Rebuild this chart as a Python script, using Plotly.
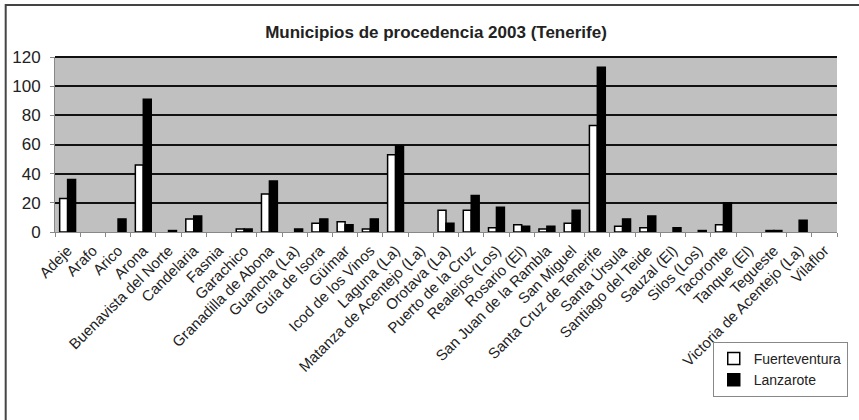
import plotly.graph_objects as go

municipios = ["Adeje", "Arafo", "Arico", "Arona", "Buenavista del Norte", "Candelaria",
              "Fasnia", "Garachico", "Granadilla de Abona", "Guancha (La)", "Guía de Isora",
              "Güímar", "Icod de los Vinos", "Laguna (La)", "Matanza de Acentejo (La)",
              "Orotava (La)", "Puerto de la Cruz", "Realejos (Los)", "Rosario (El)",
              "San Juan de la Rambla", "San Miguel", "Santa Cruz de Tenerife", "Santa Úrsula",
              "Santiago del Teide", "Sauzal (El)", "Silos (Los)", "Tacoronte", "Tanque (El)",
              "Tegueste", "Victoria de Acentejo (La)", "Vilaflor"]
fuerteventura = [23, 0, 0, 46, 0, 9, 0, 2, 26, 0, 6, 7, 2, 53, 0, 15, 15, 3, 5, 2, 6, 73, 4, 3, 0, 0, 5, 0, 1, 0, 0]
lanzarote = [36, 0, 9, 91, 1, 11, 0, 2, 35, 2, 9, 5, 9, 59, 0, 6, 25, 17, 4, 4, 15, 113, 9, 11, 3, 1, 20, 0, 1, 8, 0]
y_ticks = [0, 20, 40, 60, 80, 100, 120]


def outline(values):
    return [1.5 if v else 0 for v in values]


fig = go.Figure()
fig.add_trace(go.Bar(x=municipios, y=fuerteventura, name="Fuerteventura",
                     marker=dict(color="white", line=dict(color="black", width=outline(fuerteventura)))))
fig.add_trace(go.Bar(x=municipios, y=lanzarote, name="Lanzarote",
                     marker=dict(color="black", line=dict(color="black", width=outline(lanzarote)))))

fig.update_layout(
    width=859, height=420,
    margin=dict(l=55, r=11, t=57, b=188),
    paper_bgcolor="white", plot_bgcolor="#c0c0c0",
    font=dict(family="Liberation Sans, Arial, sans-serif", color="#222"),
    title=dict(text="<b>Municipios de procedencia 2003 (Tenerife)</b>", x=436 / 859, xanchor="center",
               y=1 - 32 / 420, yanchor="middle", font=dict(size=17, color="#222")),
    barmode="group", bargap=0.37, bargroupgap=0.0,
    showlegend=True,
    legend=dict(x=(722 - 55) / 793, y=(232 - 342) / 175, xanchor="left", yanchor="top",
                bgcolor="white", bordercolor="#888", borderwidth=1,
                font=dict(size=14, color="#222"), tracegroupgap=0, itemwidth=30),
    xaxis=dict(tickangle=-45, tickfont=dict(size=15, color="#222"), tickson="boundaries",
               ticks="outside", ticklen=4, tickcolor="#888", showline=True, linecolor="#888",
               showgrid=False, automargin=False, ticklabelstandoff=3),
    yaxis=dict(range=[0, 120], tickvals=y_ticks, tickfont=dict(size=17, color="#222"),
               showgrid=True, gridcolor="#111", gridwidth=2, zeroline=False,
               ticks="outside", ticklen=4, tickcolor="#888", showline=True, linecolor="#888",
               automargin=False, ticklabelstandoff=6),
    shapes=[dict(type="rect", xref="paper", yref="paper",
                 x0=(5 - 55) / 793, x1=(920 - 55) / 793, y0=(232 - 460) / 175, y1=(232 - 5) / 175,
                 line=dict(color="#444", width=2), fillcolor="rgba(0,0,0,0)", layer="below"),
            dict(type="line", xref="paper", yref="paper", x0=0, x1=1, y0=1, y1=1,
                 line=dict(color="#111", width=2))],
)

fig.write_html("out.html", config={"displayModeBar": False},
               post_script="document.body.style.margin='0';document.body.style.overflow='hidden';")
